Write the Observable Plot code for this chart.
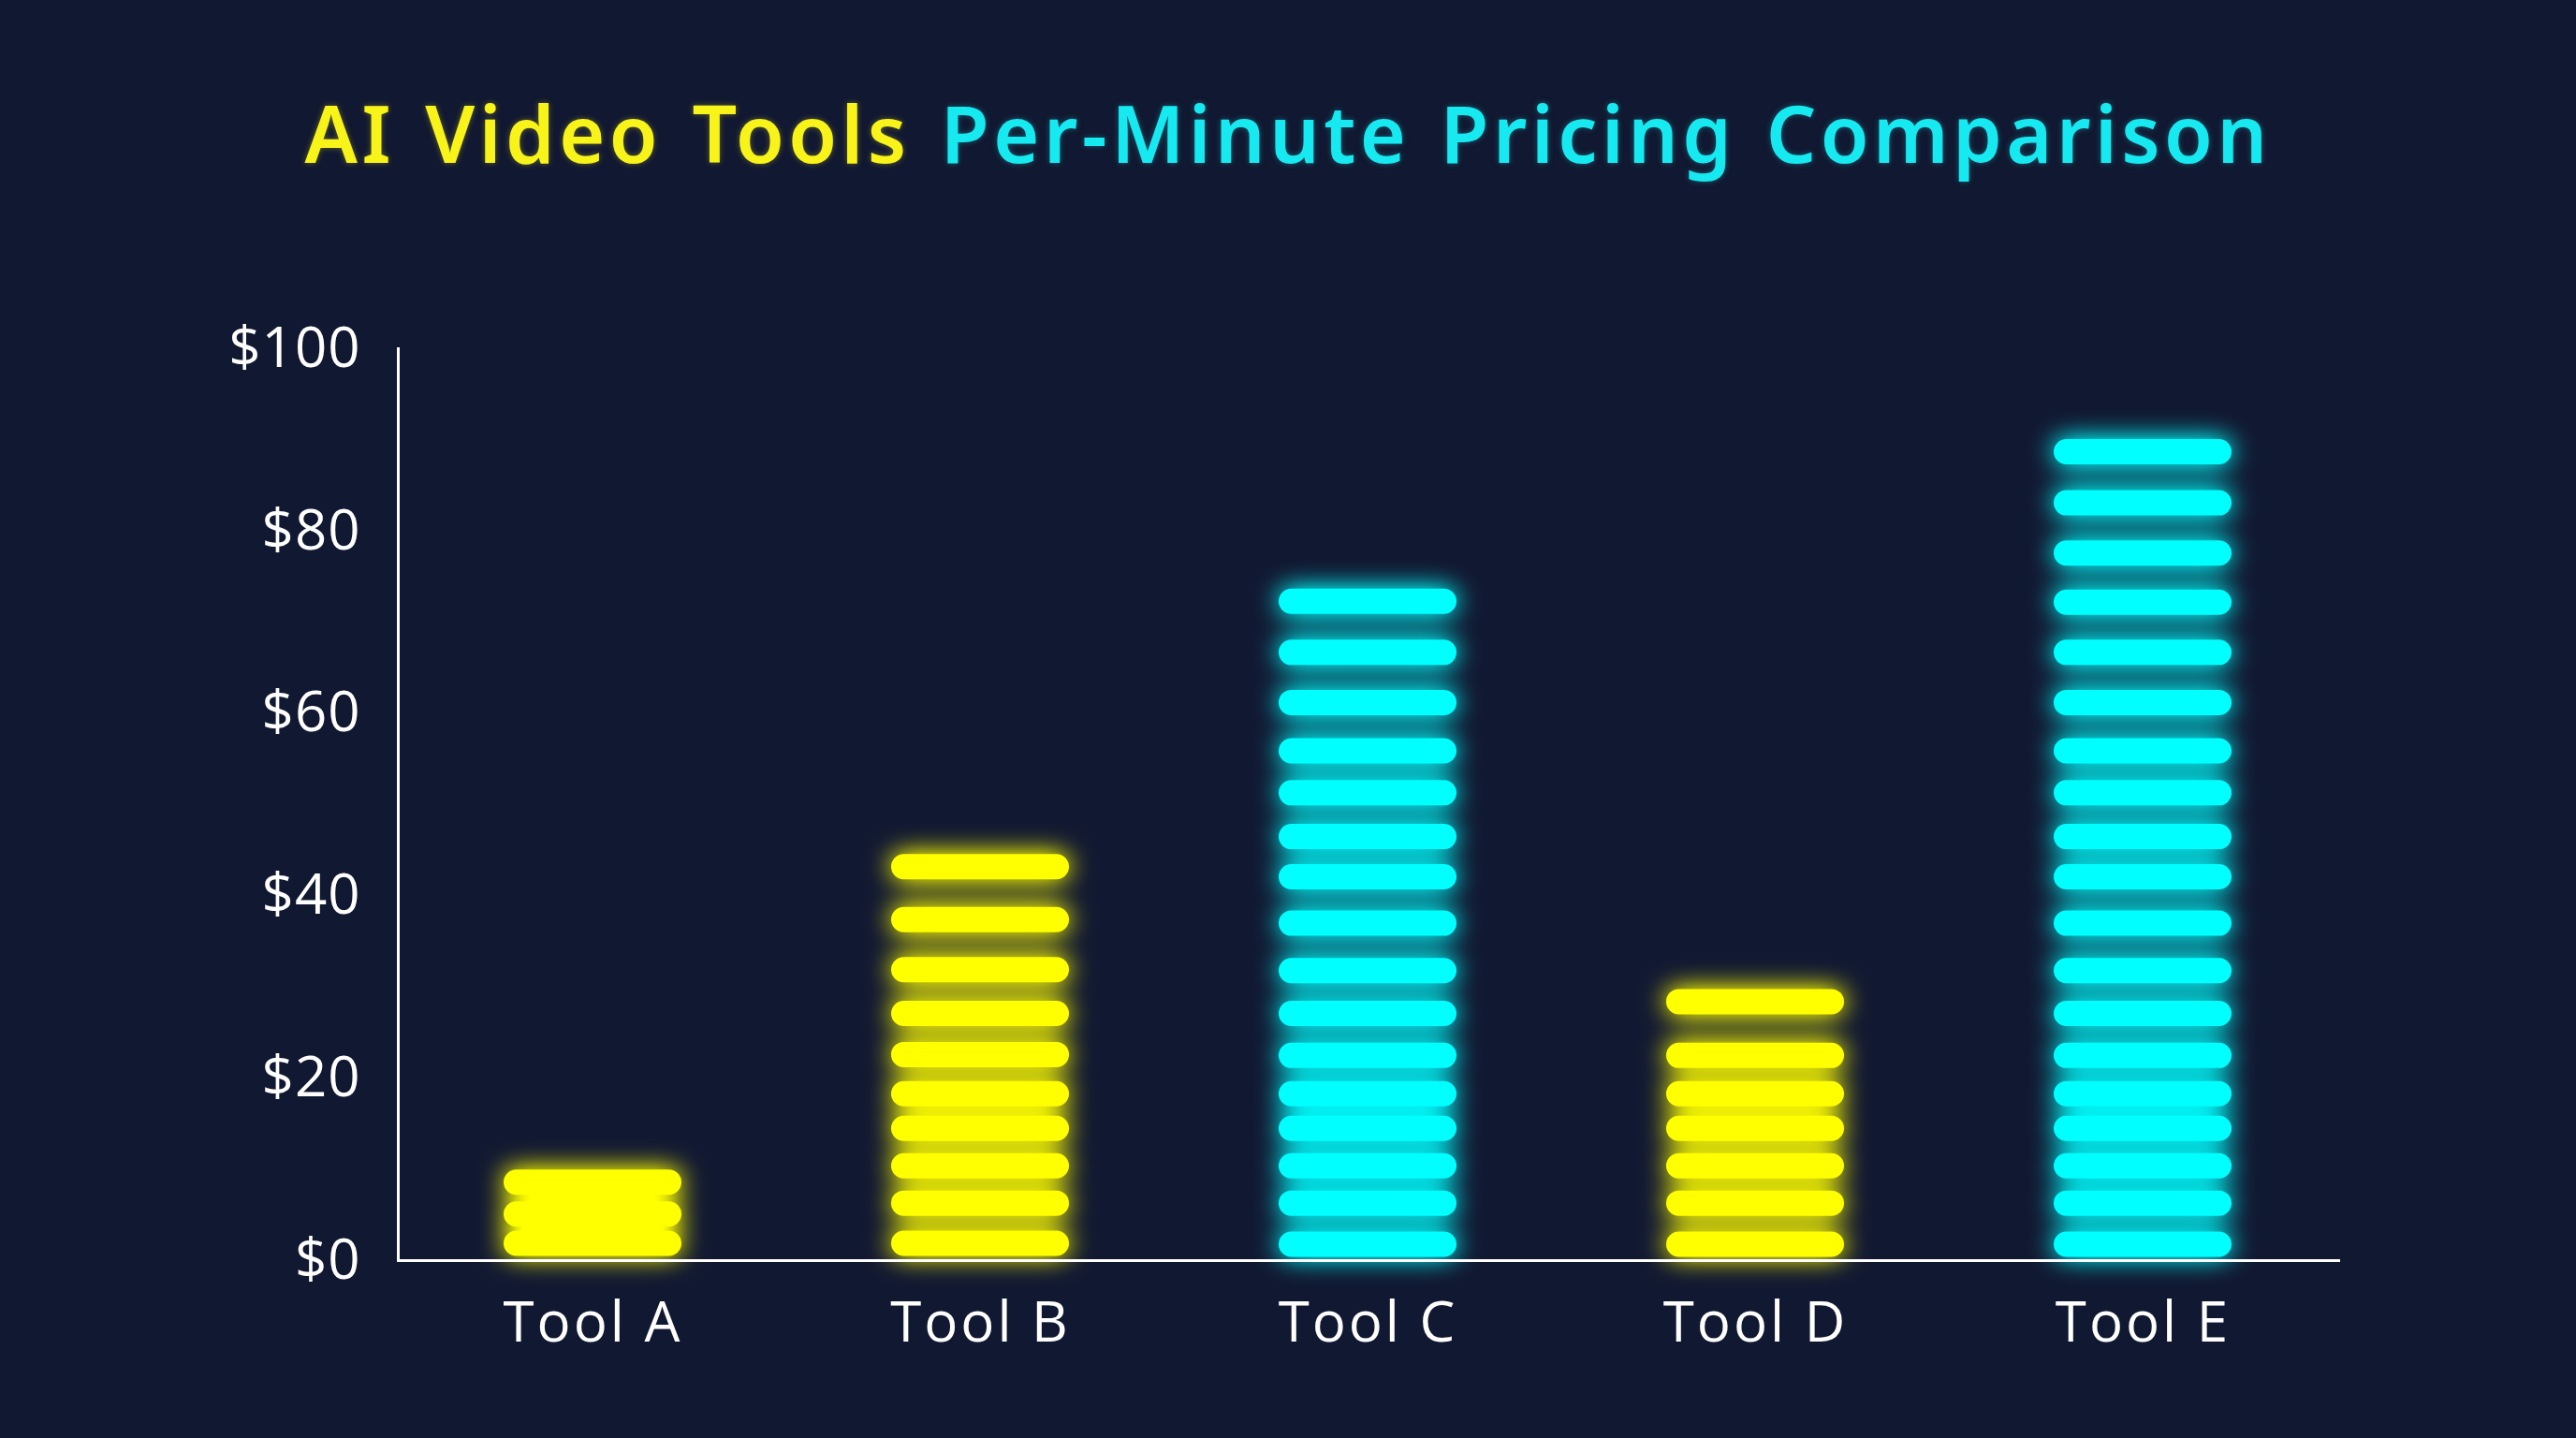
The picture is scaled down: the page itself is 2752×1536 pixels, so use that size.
<!DOCTYPE html>
<html>
<head>
<meta charset="utf-8">
<script src="https://cdn.jsdelivr.net/npm/d3@7"></script>
<script src="https://cdn.jsdelivr.net/npm/@observablehq/plot@0.6"></script>
<style>
  html, body { margin: 0; padding: 0; background: #111831; }
  body { width: 2752px; height: 1536px; overflow: hidden; }
  #title {
    box-sizing: border-box; height: 230px; padding-top: 100px;
    text-align: center; font-family: "Noto Sans", sans-serif; font-weight: 600;
    font-size: 84px; line-height: 1; white-space: nowrap; letter-spacing: 4.5px; word-spacing: 6px;
  }
  #title .y { color: #f8f41a; text-shadow: 0 0 6px rgba(248,244,26,0.35); }
  #title .c { color: #17e9f0; text-shadow: 0 0 6px rgba(23,233,240,0.35); }
</style>
</head>
<body>
<div id="title"><span class="y">AI Video Tools</span> <span class="c">Per-Minute Pricing Comparison</span></div>
<div id="chart"></div>
<script>
// Categories
const tools = ["Tool A", "Tool B", "Tool C", "Tool D", "Tool E"];
// Colour group of each tool
const toolColors = ["#ffff00", "#ffff00", "#00ffff", "#ffff00", "#00ffff"];
// Centre value ($) of each stacked segment, per tool
const segA = [8.6, 5.1, 1.9];
const segB = [43.2, 37.4, 31.9, 27.1, 22.6, 18.3, 14.5, 10.4, 6.3, 1.9];
const segC = [72.3, 66.7, 61.2, 55.9, 51.3, 46.5, 42.1, 37.0, 31.8, 27.1, 22.5, 18.3, 14.5, 10.4, 6.3, 1.8];
const segD = [28.4, 22.5, 18.3, 14.5, 10.4, 6.3, 1.8];
const segE = [88.7, 83.1, 77.6, 72.2, 66.7, 61.2, 55.9, 51.3, 46.5, 42.1, 37.0, 31.8, 27.1, 22.5, 18.3, 14.5, 10.4, 6.3, 1.8];
// Y ticks
const yTicks = [0, 20, 40, 60, 80, 100];
const yTickLabels = ["$0", "$20", "$40", "$60", "$80", "$100"];

const segs = [segA, segB, segC, segD, segE];
const rows = [];
tools.forEach((t, i) => segs[i].forEach(v => rows.push({tool: t, value: v, color: toolColors[i]})));

const chart = Plot.plot({
  width: 2752,
  height: 1306,
  marginTop: 142,
  marginBottom: 190,
  marginLeft: 425,
  marginRight: 254,
  style: {background: "transparent", color: "white", fontFamily: "'Open Sans', sans-serif", fontSize: "60px", overflow: "visible"},
  x: {type: "band", domain: tools, paddingInner: 0.54, paddingOuter: 0.27, label: null},
  y: {domain: [0, 100], label: null},
  marks: [
    Plot.axisX({tickSize: 0, tickPadding: 44, fontSize: 60, fill: "white", label: null}),
    Plot.axisY({ticks: yTicks, tickFormat: (d) => yTickLabels[yTicks.indexOf(d)], tickSize: 0, tickPadding: 40, fontSize: 60, fill: "white", label: null}),
    Plot.tickY(rows, {
      x: "tool", y: "value", stroke: "color",
      strokeWidth: 27, strokeLinecap: "round", insetLeft: 13.5, insetRight: 13.5
    }),
    Plot.frame({anchor: "left", stroke: "white", strokeWidth: 3}),
    Plot.frame({anchor: "bottom", stroke: "white", strokeWidth: 3})
  ],
  color: {type: "identity"}
});
document.getElementById("chart").appendChild(chart);

// glow filter
const svg = d3.select(chart);
const defs = svg.insert("defs", ":first-child");
const f = defs.append("filter").attr("id", "glow")
  .attr("filterUnits", "userSpaceOnUse").attr("x", 0).attr("y", 0).attr("width", 2752).attr("height", 1306);
f.append("feGaussianBlur").attr("in", "SourceGraphic").attr("stdDeviation", 14).attr("result", "b");
f.append("feComponentTransfer").attr("in", "b").attr("result", "b2")
  .append("feFuncA").attr("type", "linear").attr("slope", 1.3);
const m = f.append("feMerge");
m.append("feMergeNode").attr("in", "b2");
m.append("feMergeNode").attr("in", "SourceGraphic");
svg.selectAll('g[aria-label="tick"]').attr("filter", "url(#glow)");
svg.selectAll('g[aria-label="x-axis tick label"] text').attr("letter-spacing", "3px");
svg.selectAll('g[aria-label="y-axis tick label"] text').attr("letter-spacing", "1px");
</script>
</body>
</html>
